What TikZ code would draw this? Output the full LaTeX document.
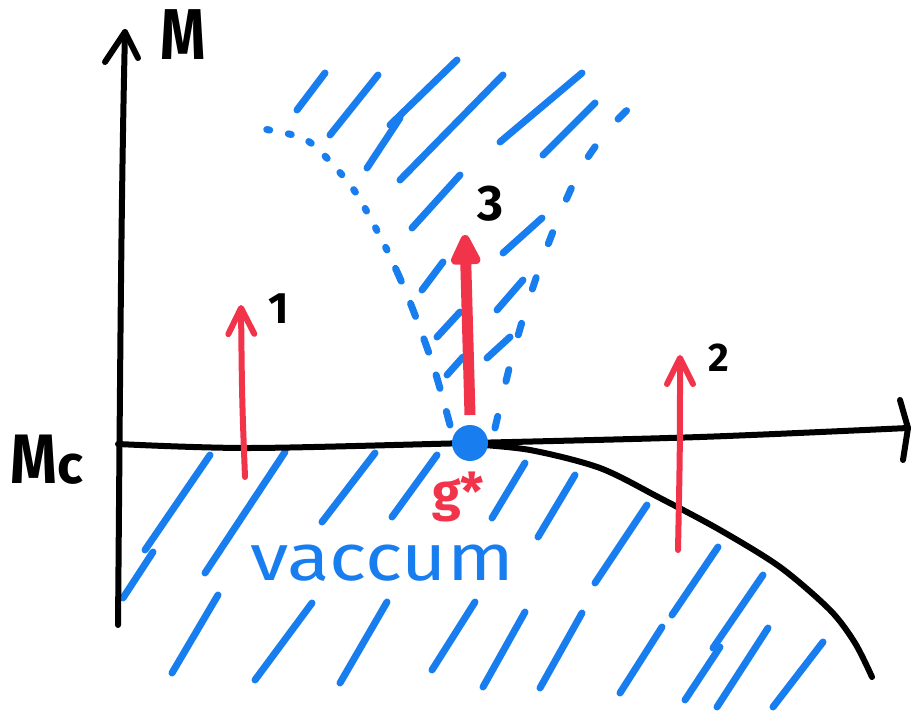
\documentclass[tikz,border=0pt]{standalone}
\usepackage{fontspec}
\usepackage{graphicx}
\setmainfont{Fira Sans}
\usetikzlibrary{arrows.meta}
\definecolor{hblue}{RGB}{24,126,240}
\definecolor{hred}{RGB}{242,52,74}
\begin{document}
\begin{tikzpicture}[x=1pt,y=-1pt,
  axis/.style={black, line width=6pt, line cap=round, line join=round},
  hatch/.style={hblue, line width=7pt, line cap=round},
  bound/.style={hblue, line width=7pt, line cap=round},
  redthin/.style={hred, line width=6pt, line cap=round, -{Straight Barb[length=26pt,width=26pt,round]}},
  lab/.style={inner sep=0pt, anchor=base west, font=\bfseries}]
\useasboundingbox (0,0) rectangle (911,717);
\fill[white] (0,0) rectangle (911,717);
% hatching
\foreach \a/\b/\c/\d in {325/73/297/110, 378/75/330/135, 457/60/390/125, 400/118/367/168,
  503/75/400/180, 460/175/412/228, 582/73/500/142, 595/103/543/155, 542/218/503/253,
  523/280/497/310, 443/262/422/290, 460/312/437/337, 510/337/487/358, 463/357/447/375,
  210/455/145/550, 153/552/123/598, 285/452/205/573, 375/453/322/522, 437/455/392/517,
  218/595/172/673, 312/603/255/680, 387/602/340/683, 475/602/432/670, 525/612/483/687,
  525/463/492/518, 575/475/538/537, 647/505/595/583, 718/547/672/615, 763/575/713/648,
  582/613/540/688, 662/627/620/693, 720/647/685/700, 768/628/717/707, 823/642/773/707}
  \draw[hatch] (\a,\b) -- (\c,\d);
% dashed boundaries of the cone
\draw[bound, dash pattern=on 14pt off 24pt] plot[smooth] coordinates {(450,425) (433,365) (408,297) (387,250)};
\draw[bound, dash pattern=on 3pt off 19pt] plot[smooth] coordinates {(387,250) (356,193) (322,153) (300,137) (258,128)};
\draw[bound, dash pattern=on 12pt off 36pt] plot[smooth] coordinates {(495,428) (510,365) (525,312) (543,258) (563,207) (583,165) (608,130) (638,100) (655,90)};
% axes
\coordinate (yb) at (118,625);
\coordinate (yt) at (125,32);
\draw[axis] (yb) .. controls (120,400) and (121,200) .. (yt);
\draw[axis] (105,62) -- (yt) -- (138,58);
\coordinate (xl) at (118,444);
\coordinate (xr) at (908,428);
\draw[axis] plot[smooth] coordinates {(xl) (250,448) (470,443) (700,437) (xr)};
\draw[axis] (900,400) -- (xr) -- (903,460);
% phase boundary curve
\draw[axis] plot[smooth] coordinates {(470,444) (530,450) (600,468) (660,498) (720,530) (780,567) (830,610) (855,643) (872,677)};
% fixed point
\node[circle, fill=hblue, minimum size=36pt, inner sep=0pt] (gstar) at (470,443) {};
% red arrows
\draw[redthin] (245,477) .. controls (242,400) .. (241,305);
\draw[redthin] (678,550) .. controls (680,450) .. (680,355);
\draw[hred, line width=11pt, -{Triangle[length=36pt,width=32pt,round]}] (470,415) -- (465,235);
% labels
\node[lab, font=\bfseries\fontsize{72}{72}\selectfont] (Mlab) at (160,60) {\scalebox{0.8}[1]{M}};
\node[lab, font=\bfseries\fontsize{70}{70}\selectfont] (Mc) at (10,483) {\scalebox{0.85}[1]{M}\kern1pt{\fontsize{54}{54}\selectfont c}};
\node[lab, font=\bfseries\fontsize{52}{52}\selectfont, text=hred] (gs) at (432,510) {g*};
\node[lab, font=\fontsize{66}{66}\selectfont, text=hblue] (vac) at (250,580) {\scalebox{1.18}[1]{vaccum}};
\node[lab, font=\bfseries\fontsize{44}{44}\selectfont] (n1) at (268,323) {1};
\node[lab, font=\bfseries\fontsize{40}{40}\selectfont] (n2) at (708,371) {2};
\node[lab, font=\bfseries\fontsize{50}{50}\selectfont] (n3) at (477,220) {3};
\end{tikzpicture}
\end{document}
